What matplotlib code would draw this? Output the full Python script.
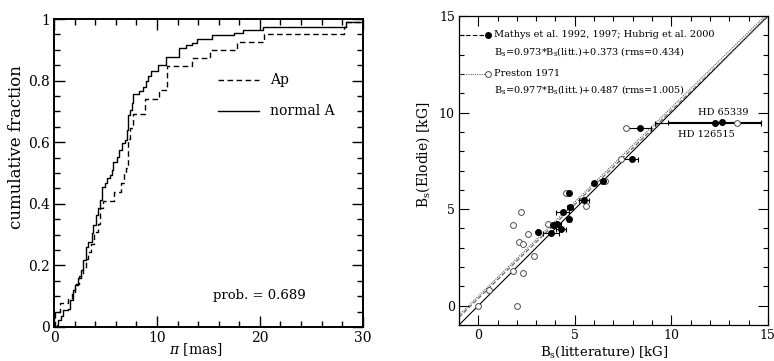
import matplotlib
matplotlib.use("Agg")
import matplotlib.pyplot as plt
import numpy as np
from matplotlib.ticker import MultipleLocator

plt.rcParams['font.family'] = ['DejaVu Serif']
plt.rcParams['mathtext.fontset'] = 'dejavuserif'

# left panel: cumulative parallax distributions (step positions and levels)
ap_plx = [0.1, 0.6, 1.4, 1.7, 2.0, 2.4, 2.8, 3.1, 3.3, 3.6, 3.9, 4.3, 4.5, 4.75,
          5.8, 6.5, 6.8, 7.0, 7.15, 7.4, 7.65, 8.8, 10.2, 11.0, 13.4, 15.2,
          17.8, 20.4, 28.2, 28.4]
ap_cum = [0.05, 0.077, 0.09, 0.115, 0.14, 0.165, 0.19, 0.22, 0.245, 0.27, 0.31,
          0.335, 0.385, 0.41, 0.437, 0.466, 0.498, 0.515, 0.61, 0.645, 0.693,
          0.742, 0.77, 0.848, 0.872, 0.9, 0.926, 0.952, 0.975, 0.99]

norm_plx = [0.26, 0.42, 0.65, 0.9, 1.4, 1.6, 1.8, 2.04, 2.36, 2.6, 2.85, 3.1,
            3.33, 3.66, 3.8, 4.1, 4.3, 4.47, 4.63, 4.95, 5.1, 5.44, 5.6, 5.76,
            6.1, 6.34, 6.57, 6.9, 7.06, 7.2, 7.38, 7.54, 7.7, 8.3, 8.6, 8.9,
            9.1, 9.4, 10.1, 10.9, 12.1, 12.8, 13.4, 13.85, 15.3, 17.5, 18.4,
            20.3, 28.4]
norm_cum = [0.006, 0.023, 0.036, 0.055, 0.06, 0.088, 0.12, 0.136, 0.159, 0.185,
            0.218, 0.26, 0.277, 0.305, 0.33, 0.364, 0.386, 0.412, 0.455, 0.466,
            0.483, 0.493, 0.51, 0.537, 0.553, 0.575, 0.596, 0.607, 0.64, 0.688,
            0.705, 0.726, 0.758, 0.765, 0.78, 0.80, 0.815, 0.83, 0.851, 0.878,
            0.905, 0.916, 0.921, 0.935, 0.948, 0.955, 0.964, 0.975, 0.99]

# right panel: field moduli, literature vs Elodie
mathys_lit = [8.36, 7.96, 5.98, 6.47, 5.48, 4.76, 4.68, 4.38, 4.68, 4.10, 3.85,
              4.28, 3.76, 3.10, 12.25, 12.64]
mathys_elo = [9.22, 7.60, 6.34, 6.47, 5.48, 5.10, 5.86, 4.83, 4.48, 4.24, 4.17,
              3.97, 3.76, 3.81, 9.45, 9.50]
mathys_err_lo = [0.7, 0.5, 0.0, 0.1, 0.25, 0.15, 0.0, 0.35, 0.1, 0.2, 0.0,
                 0.25, 0.4, 0.0, 3.1, 2.8]
mathys_err_hi = [0.6, 0.3, 0.0, 0.1, 0.25, 0.15, 0.0, 0.3, 0.1, 0.2, 0.0,
                 0.25, 0.4, 0.0, 2.4, 2.0]

preston_lit = [7.65, 7.40, 6.56, 5.57, 4.57, 3.60, 2.57, 2.21, 1.79, 2.10, 2.30,
               2.90, 1.82, 2.30, 0.55, 0.00, 2.00, 13.4]
preston_elo = [9.22, 7.60, 6.47, 5.14, 5.86, 4.24, 3.72, 4.83, 4.16, 3.28, 3.21,
               2.55, 1.79, 1.69, 0.83, 0.00, 0.00, 9.45]

fit_mathys = (0.973, 0.373)
fit_preston = (0.977, 0.487)

fig = plt.figure(figsize=(7.74, 3.61), dpi=100)

# ---- left panel
ax1 = fig.add_axes([0.0698, 0.0942, 0.399, 0.853])
ax1.step([ap_plx[0]] + ap_plx + [30], [0] + ap_cum + [ap_cum[-1]], where='post',
         color='k', ls=(0, (4, 2.5)), lw=1.0)
ax1.step([norm_plx[0]] + norm_plx + [30], [0] + norm_cum + [norm_cum[-1]],
         where='post', color='k', lw=1.0)
ax1.plot([15.95, 19.95], [0.802, 0.802], color='k', ls=(0, (4, 2.5)), lw=1.0)
ax1.plot([15.95, 19.95], [0.701, 0.701], color='k', lw=1.0)
ax1.text(21.0, 0.802, 'Ap', va='center', ha='left', fontsize=10)
ax1.text(21.0, 0.701, 'normal A', va='center', ha='left', fontsize=10)
ax1.text(15.4, 0.103, 'prob. = 0.689', va='center', ha='left', fontsize=9.5)

ax1.set_xlim(0, 30)
ax1.set_ylim(0, 1)
ax1.xaxis.set_major_locator(MultipleLocator(10))
ax1.xaxis.set_minor_locator(MultipleLocator(2))
ax1.yaxis.set_major_locator(MultipleLocator(0.2))
ax1.yaxis.set_minor_locator(MultipleLocator(0.05))
ax1.yaxis.set_major_formatter(lambda v, pos: '%g' % round(v, 2))
ax1.tick_params(which='both', direction='in', top=True, right=True,
                labelsize=10, width=1.0)
ax1.tick_params(which='major', length=8, pad=3)
ax1.tick_params(which='minor', length=4)
for s in ax1.spines.values():
    s.set_linewidth(1.4)
ax1.set_xlabel(r'$\pi$ [mas]', fontsize=10)
ax1.xaxis.set_label_coords(0.46, -0.073)
ax1.xaxis.label.set_va('center')
ax1.set_ylabel('cumulative fraction', fontsize=12)
ax1.yaxis.set_label_coords(-0.123, 0.584)
ax1.yaxis.label.set_va('center')

# ---- right panel
ax2 = fig.add_axes([0.593, 0.0997, 0.399, 0.856])
xx = np.array([-1, 15])
ax2.plot(xx, xx, color='k', lw=0.8)
ax2.plot(xx, fit_mathys[0] * xx + fit_mathys[1], color='0.35', lw=0.8,
         ls=(0, (4, 2)))
ax2.plot(xx, fit_preston[0] * xx + fit_preston[1], color='0.35', lw=0.8,
         ls=(0, (1, 1)))

ax2.errorbar(mathys_lit, mathys_elo, xerr=[mathys_err_lo, mathys_err_hi],
             fmt='o', color='k', ms=4, elinewidth=0.8, capsize=1.8,
             capthick=0.8)
ax2.plot(preston_lit, preston_elo, 'o', mfc='white', mec='0.3', mew=0.7, ms=4.2)

# legend
ax2.plot([-1, 0.35], [14.02, 14.02], color='k', lw=0.8, ls=(0, (4, 2)))
ax2.plot([0.51], [14.02], 'o', color='k', ms=4)
ax2.plot([-1, 0.35], [12.0, 12.0], color='0.4', lw=0.8, ls=(0, (1, 1)))
ax2.plot([0.51], [12.0], 'o', mfc='white', mec='0.3', mew=0.7, ms=4.2)
ax2.text(0.82, 14.02, 'Mathys et al. 1992, 1997; Hubrig et al. 2000',
         va='center', ha='left', fontsize=7)
ax2.text(0.82, 13.15, r'B$_{\rm s}$=0.973*B$_{\rm s}$(litt.)+0.373 (rms=0.434)',
         va='center', ha='left', fontsize=7)
ax2.text(0.82, 12.0, 'Preston 1971', va='center', ha='left', fontsize=7)
ax2.text(0.82, 11.17, r'B$_{\rm s}$=0.977*B$_{\rm s}$(litt.)+0.487 (rms=1.005)',
         va='center', ha='left', fontsize=7)
ax2.text(11.4, 10.0, 'HD 65339', va='center', ha='left', fontsize=7)
ax2.text(10.35, 8.84, 'HD 126515', va='center', ha='left', fontsize=7)

ax2.set_xlim(-1, 15)
ax2.set_ylim(-1, 15)
ax2.xaxis.set_major_locator(MultipleLocator(5))
ax2.xaxis.set_minor_locator(MultipleLocator(1))
ax2.yaxis.set_major_locator(MultipleLocator(5))
ax2.yaxis.set_minor_locator(MultipleLocator(1))
ax2.tick_params(which='both', direction='in', top=True, right=True,
                labelsize=9, width=0.8)
ax2.tick_params(which='major', length=7, pad=3)
ax2.tick_params(which='minor', length=3.5)
for s in ax2.spines.values():
    s.set_linewidth(0.9)
ax2.set_xlabel(r'B$_{\rm s}$(litterature) [kG]', fontsize=9.5)
ax2.xaxis.set_label_coords(0.47, -0.09)
ax2.xaxis.label.set_va('center')
ax2.set_ylabel(r'B$_{\rm s}$(Elodie) [kG]', fontsize=10)
ax2.yaxis.set_label_coords(-0.117, 0.55)
ax2.yaxis.label.set_va('center')

fig.savefig('out.png', dpi=100)
